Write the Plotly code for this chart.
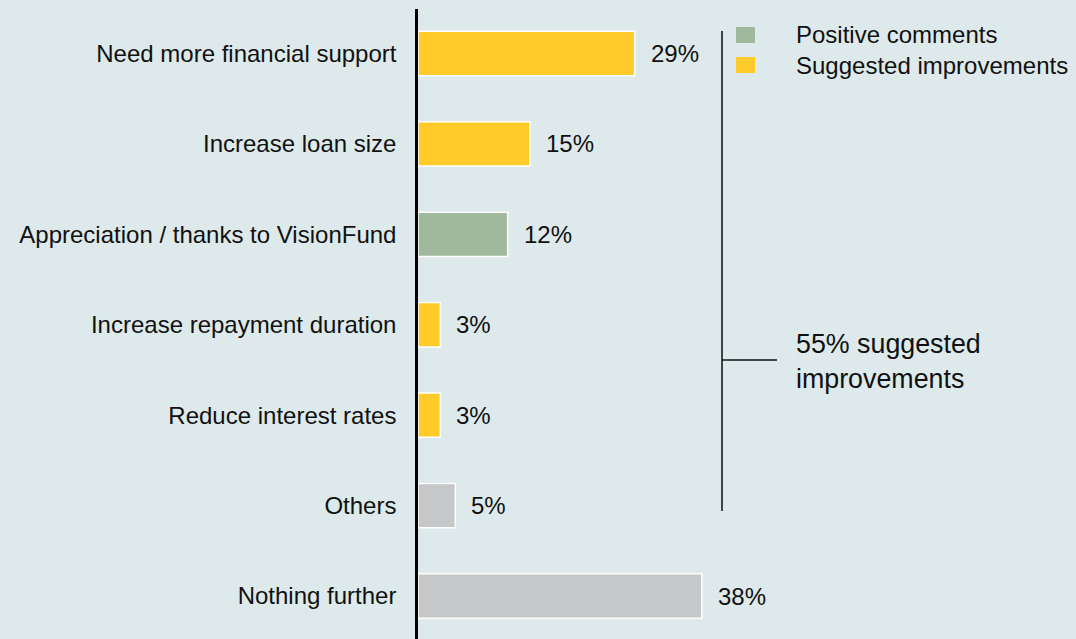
import plotly.graph_objects as go

categories = ["Need more financial support", "Increase loan size", "Appreciation / thanks to VisionFund",
              "Increase repayment duration", "Reduce interest rates", "Others", "Nothing further"]
values = [29, 15, 12, 3, 3, 5, 38]
groups = ["Suggested improvements", "Suggested improvements", "Positive comments",
          "Suggested improvements", "Suggested improvements", "Other", "Other"]
value_labels = ["29%", "15%", "12%", "3%", "3%", "5%", "38%"]
legend_items = ["Positive comments", "Suggested improvements"]
bracket_text = "55% suggested<br>improvements"

BG = "#dde9ea"
colors_map = {"Suggested improvements": "#ffcb2b", "Positive comments": "#a0b99d", "Other": "#c6c7c9"}
FONT = "Liberation Sans, Arial, sans-serif"

W, H = 1076, 639
L, R, T, B = 418, 0, 9, 0
PW, PH = W - L - R, H - T - B

def px(x):
    return (x - L) / PW

def py(y):
    return 1 - (y - T) / PH

fig = go.Figure()
fig.add_trace(go.Bar(
    y=categories, x=values, orientation="h",
    marker=dict(color=[colors_map[g] for g in groups], line=dict(color="white", width=1.5)),
    width=0.49, showlegend=False, hoverinfo="skip",
))

annotations = []
for c, v, t in zip(categories, values, value_labels):
    annotations.append(dict(x=v, y=c, xref="x", yref="y", text=t, showarrow=False,
                            xanchor="left", yanchor="middle", xshift=14,
                            font=dict(size=24, color="#111111", family=FONT)))

shapes = []
# custom legend
leg_y = [(27, 43), (57, 73)]
leg_cy = [35, 65]
for name, (y0, y1), cy in zip(legend_items, leg_y, leg_cy):
    shapes.append(dict(type="rect", xref="paper", yref="paper",
                       x0=px(736), x1=px(755), y0=py(y1), y1=py(y0),
                       fillcolor=colors_map[name], line=dict(width=0)))
    annotations.append(dict(x=px(794), y=py(cy), xref="paper", yref="paper", text=name,
                            showarrow=False, xanchor="left", yanchor="middle",
                            font=dict(size=24, color="#111111", family=FONT)))

# bracket
shapes.append(dict(type="line", xref="paper", yref="paper", x0=px(722), x1=px(722),
                   y0=py(511), y1=py(31), line=dict(color="#3c4446", width=2)))
shapes.append(dict(type="line", xref="paper", yref="paper", x0=px(722), x1=px(777),
                   y0=py(360), y1=py(360), line=dict(color="#111111", width=1.5)))
annotations.append(dict(x=px(794), y=py(361), xref="paper", yref="paper", text=bracket_text,
                        showarrow=False, xanchor="left", yanchor="middle", align="left",
                        font=dict(size=26.8, color="#111111", family=FONT)))

fig.update_layout(
    width=W, height=H,
    margin=dict(l=L, r=R, t=T, b=B, pad=0),
    paper_bgcolor=BG, plot_bgcolor=BG,
    font=dict(family=FONT, size=24, color="#111111"),
    xaxis=dict(range=[0, PW / 7.47], visible=False, showgrid=False, zeroline=False),
    yaxis=dict(categoryorder="array", categoryarray=categories,
               range=[6.4755, -0.492], showgrid=False, zeroline=False,
               showline=True, linecolor="black", linewidth=2.5,
               ticks="outside", ticklen=0, ticklabelstandoff=14,
               tickfont=dict(size=24, color="#111111", family=FONT)),
    annotations=annotations, shapes=shapes,
    bargap=0.5,
)

fig.write_html("out.html",
               config={"displayModeBar": False},
               post_script="document.body.style.margin='0';document.body.style.padding='0';"
                           "document.body.style.overflow='hidden';"
                           "document.body.style.background='" + BG + "';")
